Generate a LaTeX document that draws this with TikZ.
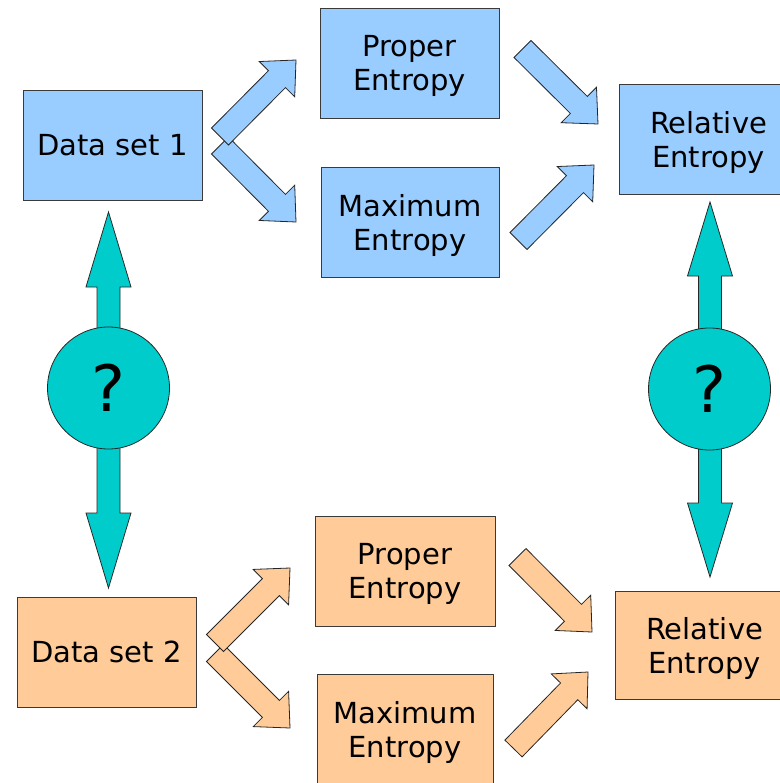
\documentclass[tikz,border=0pt]{standalone}
\usepackage{fontspec}
\setmainfont{DejaVu Sans}
\usetikzlibrary{calc}

\definecolor{boxblue}{HTML}{99CCFF}
\definecolor{boxorange}{HTML}{FFCC99}
\definecolor{linkteal}{HTML}{00CCCC}
\definecolor{edge}{HTML}{3A3A3A}

% block arrow: style, tail coordinate, tip coordinate
\newcommand\fatarrow[3]{%
  \coordinate (fa-b) at ($(#3)!27pt!(#2)$);
  \filldraw[#1] ($(#2)!12pt!90:(#3)$) -- ($(fa-b)!12pt!90:(#3)$)
    -- ($(fa-b)!25pt!90:(#3)$) -- (#3) -- ($(fa-b)!25pt!-90:(#3)$)
    -- ($(fa-b)!12pt!-90:(#3)$) -- ($(#2)!12pt!-90:(#3)$) -- cycle;
}
% vertical double-headed arrow: top tip, bottom tip, head length
\newcommand\dblarrow[3]{%
  \filldraw[linkarrow] (#1) -- ($(#1)+(22.5,#3)$) -- ($(#1)+(11.5,#3)$)
    -- ($(#2)+(11.5,-#3)$) -- ($(#2)+(22.5,-#3)$) -- (#2)
    -- ($(#2)+(-22.5,-#3)$) -- ($(#2)+(-11.5,-#3)$)
    -- ($(#1)+(-11.5,#3)$) -- ($(#1)+(-22.5,#3)$) -- cycle;
}

\tikzset{
  box/.style={draw=edge, line width=0.8pt, minimum width=179pt,
    minimum height=110pt, inner sep=0pt, align=center,
    font=\fontsize{29}{34}\selectfont},
  twoline/.style={text depth=0pt},
  bluebox/.style={box, fill=boxblue},
  orangebox/.style={box, fill=boxorange},
  bluearrow/.style={fill=boxblue, draw=black!85, line width=0.8pt, line join=miter},
  orangearrow/.style={fill=boxorange, draw=black!85, line width=0.8pt, line join=miter},
  linkarrow/.style={fill=linkteal, draw=black!85, line width=0.8pt},
  query/.style={circle, draw=black!85, line width=0.8pt, fill=linkteal,
    minimum size=122pt, inner sep=0pt, font=\fontsize{64}{64}\selectfont},
}

\begin{document}
\begin{tikzpicture}[x=1pt, y=-1pt]
\useasboundingbox (0,0) rectangle (779,783);
\fill[white] (0,0) rectangle (779,783);

% first data set
\node[bluebox] (d1) at (112.5,145) {Data set 1};
\node[bluebox, twoline] (p1) at (409.5,63) {Proper\\Entropy};
\node[bluebox, twoline, minimum width=178pt] (m1) at (410,222) {Maximum\\Entropy};
\node[bluebox, twoline] (r1) at (708.5,139) {Relative\\Entropy};

% second data set
\node[orangebox] (d2) at (106.5,652) {Data set 2};
\node[orangebox, twoline, minimum width=180pt] (p2) at (405,571) {Proper\\Entropy};
\node[orangebox, twoline, minimum width=176pt] (m2) at (405,729) {Maximum\\Entropy};
\node[orangebox, twoline, minimum height=108pt] (r2) at (704.5,645) {Relative\\Entropy};

% arrow end points
\coordinate (a1t) at (220,136.5);   \coordinate (a1h) at (296,60);
\coordinate (a2t) at (220,145.5);   \coordinate (a2h) at (296,222);
\coordinate (a3t) at (522.5,49);    \coordinate (a3h) at (598,124);
\coordinate (a4t) at (518.5,241);   \coordinate (a4h) at (594,165);
\coordinate (b1t) at (215,643);     \coordinate (b1h) at (290,568);
\coordinate (b2t) at (215,653);     \coordinate (b2h) at (290,728);
\coordinate (b3t) at (517.5,557);   \coordinate (b3h) at (592,632);
\coordinate (b4t) at (513.5,748.5); \coordinate (b4h) at (588,672);

\fatarrow{bluearrow}{a2t}{a2h}
\fatarrow{bluearrow}{a1t}{a1h}
\fatarrow{bluearrow}{a3t}{a3h}
\fatarrow{bluearrow}{a4t}{a4h}
\fatarrow{orangearrow}{b2t}{b2h}
\fatarrow{orangearrow}{b1t}{b1h}
\fatarrow{orangearrow}{b3t}{b3h}
\fatarrow{orangearrow}{b4t}{b4h}

% links between the two data sets
\coordinate (lt) at (108.5,212); \coordinate (lb) at (108.5,588);
\coordinate (rt) at (710,202);   \coordinate (rb) at (710,577);
\dblarrow{lt}{lb}{75}
\dblarrow{rt}{rb}{74}
\node[query] (q1) at (108.5,388) {?};
\node[query] (q2) at (709.5,389) {?};
\end{tikzpicture}
\end{document}
